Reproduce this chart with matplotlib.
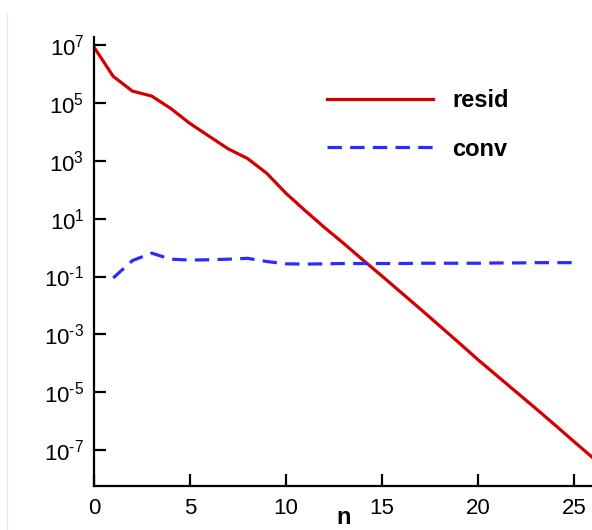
import numpy as np
import matplotlib
matplotlib.use("Agg")
import matplotlib.pyplot as plt
from matplotlib.lines import Line2D
from matplotlib.ticker import FuncFormatter, NullLocator

plt.rcParams['font.family'] = ['Liberation Sans', 'DejaVu Sans']
plt.rcParams['mathtext.fontset'] = 'custom'
plt.rcParams['mathtext.rm'] = 'Liberation Sans'
plt.rcParams['mathtext.it'] = 'Liberation Sans:italic'
plt.rcParams['mathtext.bf'] = 'Liberation Sans:bold'

# residual history (log10 values)
n_resid = np.arange(0, 27)
log_resid = [6.93, 5.92, 5.41, 5.24, 4.81, 4.29, 3.85, 3.41, 3.08, 2.57,
             1.88, 1.28, 0.70, 0.15, -0.42, -0.98, -1.55, -2.12, -2.70,
             -3.28, -3.87, -4.43, -4.99, -5.55, -6.12, -6.70, -7.27]

# convergence rate
n_conv = np.arange(1, 26)
log_conv = [-1.05, -0.45, -0.19, -0.40, -0.43, -0.42, -0.40, -0.37, -0.48,
            -0.56, -0.57, -0.56, -0.55, -0.55, -0.55, -0.55, -0.54, -0.54,
            -0.54, -0.54, -0.53, -0.53, -0.52, -0.52, -0.52]

x_ticks = [0, 5, 10, 15, 20, 25]
y_exps = [-7, -5, -3, -1, 1, 3, 5, 7]

resid = 10.0**np.array(log_resid)
conv = 10.0**np.array(log_conv)

fig = plt.figure(figsize=(5.92, 5.30), dpi=100)
ax = fig.add_axes([94/592, 44/530, 499/592, 449/530])

ax.plot(n_resid, resid, color="#d40000", lw=2.3, label="resid")
ax.plot(n_conv, conv, color="#2b2bff", lw=2.3, ls=(0, (4.5, 2.6)), label="conv")

ax.set_yscale("log")
ax.set_xlim(0, 26)
ax.set_ylim(10**-8.24, 10**7.28)
ax.set_xticks(x_ticks)
ax.set_yticks([10.0**k for k in y_exps])
ax.yaxis.set_minor_locator(NullLocator())


def fmt(v, pos):
    k = int(round(np.log10(v)))
    if k < 0:
        return r"$10^{\text{-}%d}$" % (-k)
    return r"$10^{%d}$" % k


ax.yaxis.set_major_formatter(FuncFormatter(fmt))

for s in ["top", "right"]:
    ax.spines[s].set_visible(False)
for s in ["left", "bottom"]:
    ax.spines[s].set_linewidth(1.6)
ax.tick_params(direction="in", length=8.5, width=1.6, labelsize=16, pad=7)
ax.tick_params(axis="x", pad=9)

ax.set_xlabel("n", fontsize=17, fontweight="bold")
ax.xaxis.set_label_coords(0.5, -38/449)
ax.xaxis.label.set_va("baseline")

leg = ax.legend(loc="upper left", bbox_to_anchor=(327/592, 1 - 89/530),
                bbox_transform=fig.transFigure, frameon=False,
                prop={"size": 17, "weight": "bold"}, handlelength=4.5,
                handletextpad=0.8, labelspacing=1.08, borderpad=0,
                borderaxespad=0)

# faint frame line at left edge
fig.add_artist(Line2D([7/592, 7/592], [0, 1 - 13/530], color="#e6e6e6", lw=0.8))

fig.savefig("out.png", dpi=100)
